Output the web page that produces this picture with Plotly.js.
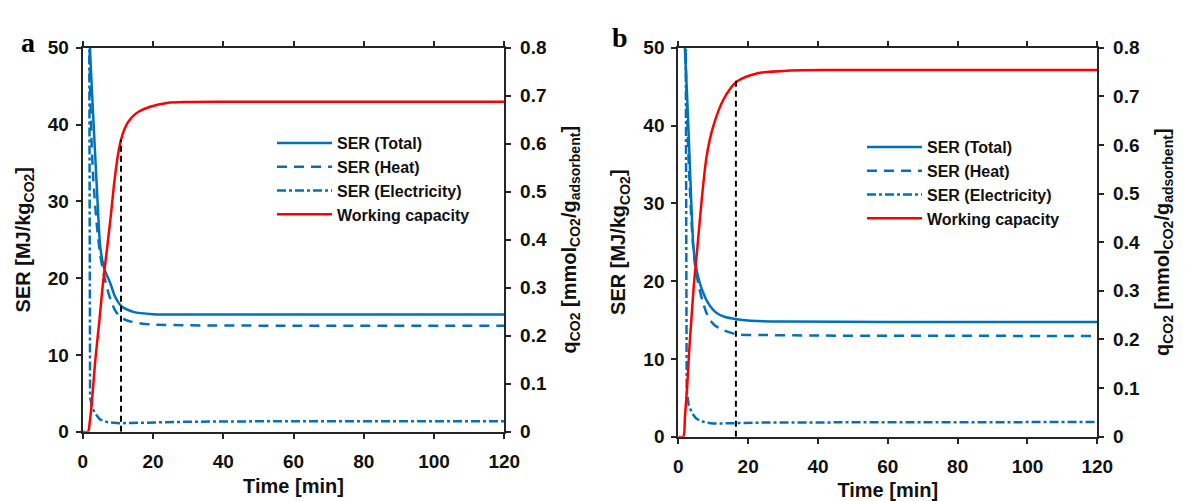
<!DOCTYPE html>
<html>
<head>
<meta charset="utf-8">
<script src="https://cdn.plot.ly/plotly-3.0.1.min.js"></script>
<style>html,body{margin:0;padding:0;background:#fff;}#chart{width:1186px;height:501px;}</style>
</head>
<body>
<div id="chart"></div>
<script>
// ---------- Panel a data ----------
const capTimeA = [0, 1.5, 2, 2.7, 3.6, 4.8, 5.7, 6.9, 8, 9, 10, 10.9, 12, 13, 14.4, 16, 19.2, 24, 30, 40, 60, 120];
const capA     = [0, 0, 0.02, 0.07, 0.15, 0.235, 0.305, 0.38, 0.45, 0.52, 0.575, 0.608, 0.632, 0.646, 0.658, 0.667, 0.677, 0.685, 0.687, 0.6875, 0.6875, 0.6875];

const totTimeA = [1.95, 2.08, 3, 4, 4.9, 5.5, 6.3, 7.8, 9.2, 11.1, 14.4, 20, 30, 60, 120];
const totA     = [56, 50, 41, 32, 24.5, 22.5, 21, 19.4, 17.6, 16.3, 15.6, 15.3, 15.25, 15.25, 15.25];

const heatTimeA = [1.9, 2.1, 2.5, 3, 4, 5, 6, 7, 8, 9, 10, 11, 12, 14, 17, 20, 30, 60, 120];
const heatA     = [56, 45, 38, 33, 27, 23, 20.5, 18.6, 17.1, 16, 15.3, 14.9, 14.6, 14.3, 14.05, 13.95, 13.85, 13.8, 13.8];

const elecTimeA = [1.85, 1.9, 1.95, 2.1, 2.6, 3.5, 4.9, 7, 10.4, 15, 20, 30, 50, 120];
const elecA     = [56, 20, 8, 4.5, 3.3, 2.4, 1.6, 1.25, 1.1, 1.15, 1.25, 1.3, 1.35, 1.37];

const markTimeA = 10.9;
const markCapA  = 0.608;

// ---------- Panel b data ----------
const capTimeB = [0, 1.4, 1.9, 2.6, 3.15, 3.8, 4.5, 5.4, 6.7, 8.1, 10, 12.9, 16.7, 22.5, 32, 45, 120];
const capB     = [0, 0, 0.041, 0.11, 0.18, 0.247, 0.316, 0.384, 0.487, 0.576, 0.638, 0.693, 0.73, 0.747, 0.753, 0.754, 0.754];

const totTimeB = [1.8, 1.9, 2.5, 3, 3.6, 4.3, 5, 6, 7.2, 8.5, 10, 11, 13, 16.7, 22.5, 30, 60, 120];
const totB     = [56, 50, 44, 38.5, 31.5, 24.5, 22, 20, 18.4, 17.2, 16.3, 15.9, 15.45, 15.1, 14.87, 14.8, 14.75, 14.75];

const heatTimeB = [2.0, 2.3, 3, 4, 4.8, 5.7, 7, 8, 9.1, 10.5, 12.9, 16.7, 24, 40, 120];
const heatB     = [56, 45, 35, 26, 22, 19.7, 17.3, 16, 15, 14.3, 13.7, 13.15, 13.07, 13.0, 12.95];

const elecTimeB = [2.1, 2.2, 2.3, 2.4, 3, 4, 5, 6, 8, 10, 12, 16, 25, 60, 120];
const elecB     = [56, 20, 8, 6, 4, 3, 2.4, 2.1, 1.8, 1.7, 1.7, 1.76, 1.82, 1.86, 1.88];

const markTimeB = 16.5;
const markCapB  = 0.733;

// ---------- labels ----------
const seriesNames = ['SER (Total)', 'SER (Heat)', 'SER (Electricity)', 'Working capacity'];
const xTicks  = [0, 20, 40, 60, 80, 100, 120];
const yTicks  = [0, 10, 20, 30, 40, 50];
const y2Ticks = [0, 0.1, 0.2, 0.3, 0.4, 0.5, 0.6, 0.7, 0.8];
const y2TickText = ['0', '0.1', '0.2', '0.3', '0.4', '0.5', '0.6', '0.7', '0.8'];

const BLUE = '#0072BD', RED = '#FF0000', AX = '#262626';
const FONT = 'Liberation Sans, Arial, sans-serif';
const W = 1186, H = 501;

function panelTraces(xa, ya, ya2, leg, d) {
  return [
    {x: d.tt, y: d.tot, xaxis: xa, yaxis: ya, name: seriesNames[0], legend: leg, mode: 'lines',
     line: {color: BLUE, width: 2.5, shape: 'spline', smoothing: 0.6}},
    {x: d.ht, y: d.heat, xaxis: xa, yaxis: ya, name: seriesNames[1], legend: leg, mode: 'lines',
     line: {color: BLUE, width: 2.5, dash: '10px,7px', shape: 'spline', smoothing: 0.6}},
    {x: d.et, y: d.elec, xaxis: xa, yaxis: ya, name: seriesNames[2], legend: leg, mode: 'lines',
     line: {color: BLUE, width: 2.5, dash: '9px,3px,3px,3px'}},
    {x: d.ct, y: d.cap, xaxis: xa, yaxis: ya2, name: seriesNames[3], legend: leg, mode: 'lines',
     line: {color: RED, width: 2.5, shape: 'spline', smoothing: 0.8}},
    {x: [d.mt, d.mt], y: [0, d.mc], xaxis: xa, yaxis: ya2, showlegend: false, mode: 'lines',
     line: {color: '#000', width: 2, dash: '6px,4px'}, hoverinfo: 'skip'}
  ];
}

const data = [].concat(
  panelTraces('x', 'y', 'y2', 'legend',
    {tt: totTimeA, tot: totA, ht: heatTimeA, heat: heatA, et: elecTimeA, elec: elecA,
     ct: capTimeA, cap: capA, mt: markTimeA, mc: markCapA}),
  panelTraces('x2', 'y3', 'y4', 'legend2',
    {tt: totTimeB, tot: totB, ht: heatTimeB, heat: heatB, et: elecTimeB, elec: elecB,
     ct: capTimeB, cap: capB, mt: markTimeB, mc: markCapB})
);

const tickFont = {family: FONT, size: 19, color: '#111', weight: 'bold'};
const titleFont = {family: FONT, size: 20, color: '#111', weight: 'bold'};

function xAxis(domain, anchor) {
  return {domain: domain, anchor: anchor, range: [0, 120], tickvals: xTicks, ticks: 'outside',
    ticklen: 5, tickwidth: 2, tickcolor: AX, showline: true, linecolor: AX, linewidth: 2,
    mirror: 'ticks', showgrid: false, zeroline: false, tickfont: tickFont, ticklabelstandoff: 6,
    title: {text: 'Time [min]', font: titleFont, standoff: 8}};
}
function yAxis(domain, anchor) {
  return {domain: domain, anchor: anchor, range: [0, 50], tickvals: yTicks, ticks: 'outside',
    ticklen: 5, tickwidth: 2, tickcolor: AX, showline: true, linecolor: AX, linewidth: 2,
    showgrid: false, zeroline: false, tickfont: tickFont, ticklabelstandoff: 3,
    title: {text: 'SER [MJ/kg<sub>CO2</sub>]', font: titleFont, standoff: 12}};
}
function y2Axis(over, anchor) {
  return {overlaying: over, anchor: anchor, side: 'right', range: [0, 0.8], tickvals: y2Ticks,
    ticktext: y2TickText, ticks: 'outside', ticklen: 5, tickwidth: 2, tickcolor: AX,
    showline: true, linecolor: AX, linewidth: 2, showgrid: false, zeroline: false,
    tickfont: tickFont, ticklabelstandoff: 5,
    title: {text: 'q<sub>CO2</sub> [mmol<sub>CO2</sub>/g<sub>adsorbent</sub>]', font: titleFont, standoff: 16}};
}

const legendFont = {family: FONT, size: 16, color: '#111', weight: 'bold'};

const layout = {
  width: W, height: H,
  margin: {l: 0, r: 0, t: 0, b: 0},
  paper_bgcolor: '#fff', plot_bgcolor: '#fff',
  showlegend: true,
  xaxis: xAxis([82.7 / W, 504.3 / W], 'y'),
  yaxis: yAxis([1 - 431.7 / H, 1 - 47.7 / H], 'x'),
  yaxis2: y2Axis('y', 'x'),
  xaxis2: xAxis([678.3 / W, 1097.3 / W], 'y3'),
  yaxis3: yAxis([1 - 436.7 / H, 1 - 47.7 / H], 'x2'),
  yaxis4: y2Axis('y3', 'x2'),
  legend: {x: 272 / W, y: 1 - 126 / H, xanchor: 'left', yanchor: 'top', bgcolor: 'rgba(0,0,0,0)',
    font: legendFont, itemwidth: 55, tracegroupgap: 0, borderwidth: 0},
  legend2: {x: 862 / W, y: 1 - 130 / H, xanchor: 'left', yanchor: 'top', bgcolor: 'rgba(0,0,0,0)',
    font: legendFont, itemwidth: 55, tracegroupgap: 0, borderwidth: 0},
  annotations: [
    {text: 'a', xref: 'paper', yref: 'paper', x: 19 / W, y: 1 - 25 / H, showarrow: false,
     font: {family: 'Liberation Serif, Times New Roman, serif', size: 28, color: '#000', weight: 'bold'}},
    {text: 'b', xref: 'paper', yref: 'paper', x: 620 / W, y: 1 - 20 / H, showarrow: false,
     font: {family: 'Liberation Serif, Times New Roman, serif', size: 28, color: '#000', weight: 'bold'}}
  ]
};

Plotly.newPlot('chart', data, layout, {displayModeBar: false, staticPlot: true});
</script>
</body>
</html>
